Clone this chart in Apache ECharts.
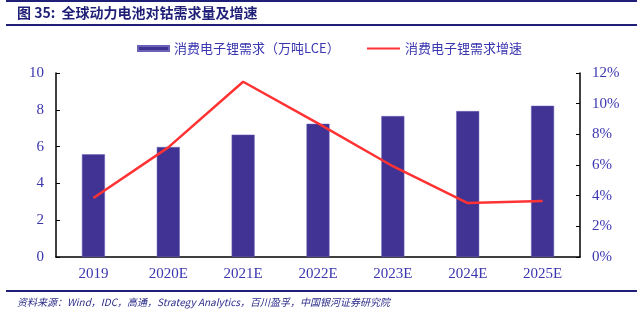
<!DOCTYPE html>
<html>
<head>
<meta charset="utf-8">
<script src="https://cdn.jsdelivr.net/npm/echarts@6/dist/echarts.min.js"></script>
<style>html,body{margin:0;padding:0;background:#fff}#c{width:640px;height:322px}</style>
</head>
<body>
<div id="c"></div>
<script>
var categories = ['2019', '2020E', '2021E', '2022E', '2023E', '2024E', '2025E'];
var demand = [5.58, 5.98, 6.65, 7.24, 7.66, 7.93, 8.22];
var growth = [3.85, 7.15, 11.43, 8.72, 5.92, 3.52, 3.65];
var leftTicks = [0, 10, 2];
var rightTicks = [0, 12, 2];
var seriesNames = ['消费电子锂需求（万吨LCE）', '消费电子锂需求增速'];
var titleText = '图 35:  全球动力电池对钴需求量及增速';
var sourceText = '资料来源：Wind，IDC，高通，Strategy Analytics，百川盈孚，中国银河证券研究院';

var navy = '#1f1f78';
var labelColor = '#3a36b0';
var serif = '"Liberation Serif", "DejaVu Serif", serif';
var cjk = '"Noto Sans CJK SC", sans-serif';

var chart = echarts.init(document.getElementById('c'));
chart.setOption({
  animation: false,
  grid: { left: 56, right: 60, top: 73, bottom: 65 },
  legend: [
    { data: [seriesNames[0]], left: 132, top: 37, itemWidth: 31, itemHeight: 5, icon: 'rect',
      textStyle: { color: labelColor, fontSize: 13, fontFamily: cjk } },
    { data: [seriesNames[1]], left: 362, top: 37, itemWidth: 33, itemHeight: 2, icon: 'rect',
      textStyle: { color: labelColor, fontSize: 13, fontFamily: cjk } }
  ],
  xAxis: {
    type: 'category', data: categories,
    axisLine: { lineStyle: { color: '#000', width: 1.5 } },
    axisTick: { inside: true, length: 4, lineStyle: { color: '#000' } },
    axisLabel: { color: labelColor, fontSize: 15, fontFamily: serif, margin: 10 }
  },
  yAxis: [
    { type: 'value', min: leftTicks[0], max: leftTicks[1], interval: leftTicks[2],
      splitLine: { show: false },
      axisLine: { show: true, lineStyle: { color: '#000', width: 1.5 } },
      axisTick: { show: true, inside: true, length: 4, lineStyle: { color: '#000' } },
      axisLabel: { color: labelColor, fontSize: 15, fontFamily: serif, margin: 12 } },
    { type: 'value', min: rightTicks[0], max: rightTicks[1], interval: rightTicks[2],
      splitLine: { show: false },
      axisLine: { show: true, lineStyle: { color: '#000', width: 1.5 } },
      axisTick: { show: true, inside: true, length: 4, lineStyle: { color: '#000' } },
      axisLabel: { color: labelColor, fontSize: 15, fontFamily: serif, margin: 12, formatter: '{value}%' } }
  ],
  series: [
    { name: seriesNames[0], type: 'bar', data: demand, barWidth: 23,
      itemStyle: { color: '#403393', borderColor: '#6a62b8', borderWidth: 0.5 } },
    { name: seriesNames[1], type: 'line', yAxisIndex: 1, data: growth, symbol: 'none',
      lineStyle: { color: '#ff3333', width: 2.5 }, itemStyle: { color: '#ff3333' } }
  ],
  graphic: [
    { type: 'line', shape: { x1: 6, y1: 1, x2: 637, y2: 1 }, style: { stroke: navy, lineWidth: 2 } },
    { type: 'line', shape: { x1: 6, y1: 25, x2: 637, y2: 25 }, style: { stroke: navy, lineWidth: 2 } },
    { type: 'text', left: 17, top: 6, style: { text: titleText, fill: navy, font: 'bold 14px ' + cjk } },
    { type: 'line', shape: { x1: 6, y1: 291, x2: 637, y2: 291 }, style: { stroke: navy, lineWidth: 2 } },
    { type: 'text', left: 17, top: 297, style: { text: sourceText, fill: '#2d2d8a', font: 'italic 10px ' + cjk } }
  ]
});
</script>
</body>
</html>
